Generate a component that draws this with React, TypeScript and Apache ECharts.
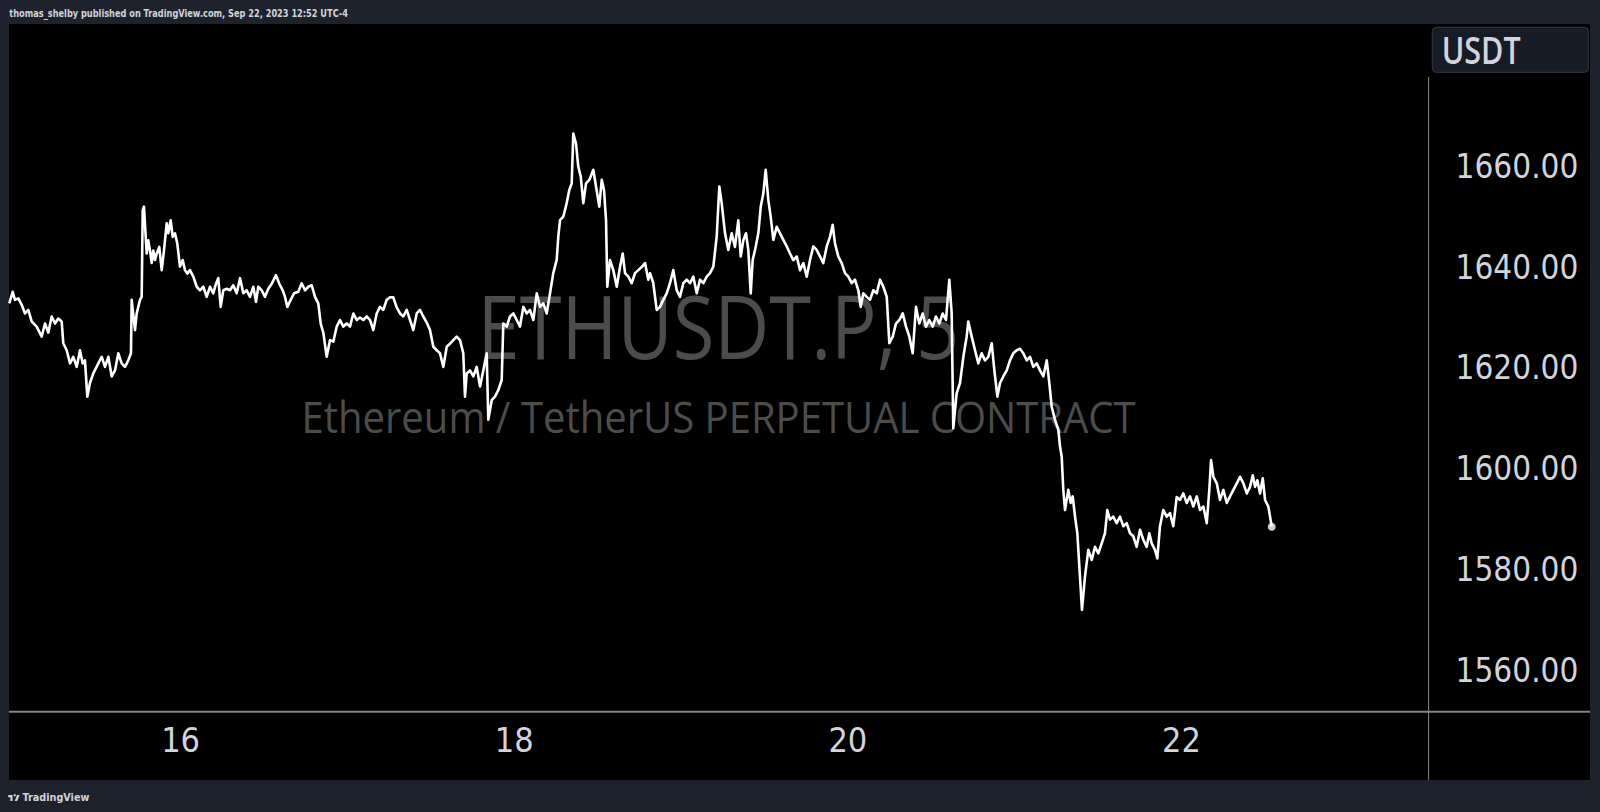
import React, { useEffect, useRef } from "react";
import * as echarts from "echarts";

// Hours since Sep 15 00:00 (UTC-4), 5-min close price in USDT
const sep15: [number, number][] = [
  [-0.65,1632.8],[-0.16,1635.1],[0.17,1633.5],[0.65,1633.8],[1.14,1632.5],[1.61,1630.8],[2.09,1631.5],[2.58,1629.2],[3.29,1628.2],[4.01,1626.2],[4.49,1628.8],[4.96,1627.0],[5.45,1630.2],[5.93,1628.8],[6.40,1629.8],[6.89,1629.2],[7.12,1624.9],[7.61,1623.5],[8.09,1620.9],[8.56,1622.2],[9.05,1620.2],[9.52,1623.5],[9.91,1620.9],[10.24,1621.5],[10.58,1614.3],[10.96,1617.0],[11.44,1618.9],[12.16,1620.9],[12.65,1622.2],[13.12,1620.2],[13.60,1622.2],[14.09,1618.3],[14.56,1619.5],[15.04,1622.9],[15.52,1620.9],[16.00,1620.2],[16.47,1621.5],[16.86,1622.9],[16.96,1633.5],[17.44,1627.5],[17.68,1630.8],[17.91,1632.1],[18.16,1633.5],[18.40,1634.1],[18.55,1651.3],[18.73,1652.0],[18.92,1647.4],[19.12,1642.7],[19.35,1645.3],[19.60,1643.3],[19.84,1640.8],[20.07,1643.3],[20.32,1641.4],[20.56,1642.7],[20.93,1644.0],[21.28,1639.4],[21.61,1643.3],[22.00,1648.7],[22.23,1646.7],[22.57,1649.3],[22.86,1646.0],[23.19,1646.7],[23.52,1644.7],[23.91,1640.1]
];
const sep16: [number, number][] = [
  [24.30,1641.4],[24.63,1639.4],[24.96,1638.7],[25.35,1639.4],[25.83,1638.1],[26.32,1636.1],[26.79,1635.4],[27.27,1636.1],[27.75,1634.1],[28.23,1636.1],[28.70,1634.8],[29.09,1636.7],[29.42,1637.8],[29.77,1632.1],[30.14,1635.4],[30.63,1635.7],[31.11,1635.4],[31.58,1636.4],[32.07,1634.8],[32.55,1637.8],[33.02,1634.8],[33.51,1635.4],[33.98,1634.1],[34.46,1636.1],[34.85,1633.1],[35.18,1636.1],[35.67,1635.4],[36.14,1634.1],[36.62,1635.7],[37.11,1636.7],[37.72,1638.4],[38.20,1636.7],[38.69,1635.4],[39.02,1634.1],[39.35,1632.1],[39.84,1633.5],[40.32,1634.8],[40.93,1635.1],[41.42,1636.8],[41.90,1635.4],[42.37,1636.1],[42.86,1636.4],[43.34,1634.1],[43.81,1632.8],[44.16,1628.8],[44.53,1627.0],[45.02,1622.2],[45.49,1625.5],[45.97,1625.2],[46.46,1628.2],[46.93,1629.5],[47.41,1628.2],[47.90,1628.8]
];
const sep17: [number, number][] = [
  [48.37,1628.2],[48.85,1630.8],[49.34,1629.5],[49.81,1630.0],[50.29,1629.5],[50.78,1630.2],[51.25,1629.5],[51.73,1627.5],[52.21,1630.8],[52.69,1632.1],[53.16,1631.5],[53.65,1633.5],[54.13,1634.0],[54.60,1634.0],[55.09,1632.0],[55.57,1630.8],[56.04,1630.2],[56.53,1631.5],[57.01,1629.5],[57.48,1627.5],[57.97,1630.8],[58.44,1631.5],[58.92,1630.2],[59.41,1629.0],[59.88,1627.5],[60.36,1624.2],[60.85,1623.5],[61.32,1622.9],[61.80,1620.2],[62.29,1624.2],[62.76,1624.8],[63.24,1625.5],[63.72,1626.2],[64.20,1625.5],[64.67,1622.9],[64.92,1614.3],[65.16,1618.9],[65.64,1619.5],[66.11,1618.3],[66.60,1620.2],[67.08,1616.3],[67.55,1619.5],[68.04,1622.9],[68.27,1609.7],[68.76,1613.6],[69.23,1614.3],[69.71,1615.6],[70.20,1617.6],[70.43,1628.8],[70.92,1628.2],[71.39,1630.2],[71.87,1630.8]
];
const sep18: [number, number][] = [
  [72.36,1629.5],[72.83,1628.2],[73.31,1632.1],[73.80,1630.8],[74.27,1631.5],[74.75,1629.5],[75.24,1634.8],[75.71,1632.1],[76.19,1632.8],[76.67,1630.8],[77.15,1634.8],[77.62,1638.8],[78.11,1641.4],[78.34,1646.0],[78.59,1649.3],[79.06,1650.0],[79.55,1652.7],[79.92,1655.3],[80.27,1656.6],[80.50,1666.5],[80.89,1664.5],[81.22,1659.9],[81.57,1658.0],[81.94,1652.7],[82.33,1656.6],[82.80,1657.3],[83.38,1659.3],[83.77,1656.0],[84.24,1652.0],[84.59,1657.3],[84.92,1655.3],[85.21,1649.3],[85.39,1636.1],[85.78,1641.4],[86.26,1639.4],[86.75,1636.1],[87.22,1640.0],[87.61,1642.7],[87.94,1638.8],[88.42,1638.1],[88.90,1636.8],[89.38,1638.8],[89.85,1639.4],[90.34,1640.0],[90.82,1640.8],[91.29,1637.5],[91.54,1638.8],[92.01,1636.8],[92.50,1631.5],[92.97,1632.1],[93.45,1633.5],[93.94,1634.8],[94.41,1636.8],[94.89,1639.4],[95.38,1635.4],[95.85,1634.1]
];
const sep19: [number, number][] = [
  [96.33,1636.8],[96.82,1637.5],[97.29,1636.8],[97.77,1638.1],[98.26,1634.8],[98.73,1637.5],[99.21,1636.8],[99.70,1638.1],[100.17,1638.8],[100.65,1640.1],[101.13,1646.0],[101.51,1656.0],[101.85,1652.7],[102.33,1646.7],[102.80,1643.4],[103.29,1646.7],[103.76,1644.0],[104.24,1649.3],[104.59,1642.1],[104.96,1645.3],[105.35,1646.7],[105.68,1643.4],[106.03,1634.8],[106.31,1641.4],[106.65,1643.4],[107.12,1646.7],[107.47,1652.0],[107.84,1654.6],[108.18,1659.3],[108.56,1653.3],[108.90,1650.0],[109.28,1645.4],[109.77,1648.0],[110.24,1646.7],[110.72,1645.4],[111.21,1644.1],[111.68,1642.7],[112.16,1641.4],[112.65,1642.1],[113.12,1639.4],[113.60,1640.8],[114.08,1638.1],[114.56,1641.4],[115.03,1644.1],[115.52,1643.4],[116.00,1642.1],[116.47,1640.8],[116.96,1644.1],[117.43,1646.0],[117.82,1648.4],[118.15,1644.7],[118.63,1642.1],[119.12,1640.8],[119.59,1638.8]
];
const sep20: [number, number][] = [
  [120.07,1638.1],[120.56,1636.8],[121.03,1637.5],[121.51,1635.4],[121.85,1632.1],[122.23,1634.8],[122.72,1634.1],[123.19,1633.5],[123.67,1635.4],[124.16,1634.8],[124.63,1637.5],[125.11,1636.1],[125.60,1634.1],[125.97,1624.9],[126.46,1626.2],[126.93,1628.8],[127.41,1629.5],[127.90,1630.8],[128.37,1628.2],[128.85,1626.2],[129.33,1622.9],[129.81,1632.1],[130.28,1628.8],[130.77,1630.8],[131.24,1628.2],[131.72,1629.5],[132.21,1628.2],[132.68,1630.2],[133.16,1628.8],[133.65,1630.8],[134.12,1629.5],[134.60,1637.5],[134.94,1630.8],[135.17,1608.0],[135.66,1615.0],[136.14,1617.0],[136.62,1622.2],[137.10,1626.2],[137.33,1629.2],[137.82,1626.2],[138.30,1623.5],[138.77,1620.9],[139.26,1622.9],[139.73,1621.5],[140.21,1622.2],[140.70,1624.9],[141.03,1620.2],[141.51,1614.3],[141.90,1617.0],[142.37,1618.3],[142.86,1619.5],[143.33,1621.5],[143.81,1622.9]
];
const sep21: [number, number][] = [
  [144.30,1623.5],[144.77,1623.8],[145.25,1622.9],[145.74,1621.5],[146.21,1622.2],[146.69,1620.2],[147.18,1620.9],[147.65,1619.5],[148.13,1618.3],[148.62,1621.5],[148.99,1617.0],[149.33,1612.3],[149.81,1609.7],[150.29,1607.7],[150.53,1604.4],[150.77,1602.4],[151.00,1595.8],[151.25,1591.8],[151.72,1595.8],[152.07,1593.2],[152.35,1594.5],[152.69,1590.5],[153.02,1587.2],[153.40,1578.6],[153.69,1572.0],[154.12,1578.6],[154.60,1583.9],[155.09,1581.9],[155.56,1584.5],[156.04,1583.2],[156.53,1585.2],[157.00,1587.2],[157.33,1591.8],[157.72,1589.9],[158.19,1590.5],[158.68,1589.2],[159.16,1590.5],[159.63,1588.6],[160.12,1589.2],[160.60,1587.2],[161.07,1586.6],[161.56,1584.5],[162.04,1587.9],[162.51,1585.9],[163.00,1584.5],[163.37,1587.2],[163.72,1585.2],[164.19,1583.9],[164.53,1582.2],[164.91,1588.6],[165.39,1591.8],[165.88,1590.5],[166.35,1591.2],[166.83,1588.6],[167.32,1594.4],[167.79,1593.8]
];
const sep22: [number, number][] = [
  [168.27,1595.1],[168.76,1593.2],[169.23,1594.5],[169.71,1592.5],[170.20,1594.5],[170.67,1591.8],[171.15,1592.5],[171.64,1589.2],[172.01,1595.8],[172.26,1601.7],[172.59,1598.4],[173.08,1597.1],[173.55,1593.8],[174.03,1595.8],[174.52,1593.2],[174.99,1594.5],[175.47,1595.8],[175.96,1597.1],[176.43,1598.4],[176.91,1597.1],[177.40,1595.1],[177.87,1596.4],[178.26,1598.7],[178.59,1596.4],[178.92,1597.7],[179.31,1595.1],[179.70,1598.1],[180.03,1593.8],[180.50,1592.5],[180.99,1588.5]
];

const xTickHours = [24, 72, 120, 168]; // Sep 16, 18, 20, 22
const yTickValues = [1560, 1580, 1600, 1620, 1640, 1660];
const startDay = 15;

const headerText = "thomas_shelby published on TradingView.com, Sep 22, 2023 12:52 UTC-4";
const symbolText = "ETHUSDT.P, 5";
const descText = "Ethereum / TetherUS PERPETUAL CONTRACT";
const currencyText = "USDT";
const brandText = "TradingView";

const TV_LOGO =
  "M14 6H2v6h6v9h6V6Z M27 21h-7l6.65-15h7L27 21Z M20 10a3 3 0 1 0 0-6a3 3 0 1 0 0 6Z";

function measure(text: string, font: string): number {
  const c = document.createElement("canvas").getContext("2d");
  if (!c) return text.length * 8;
  c.font = font;
  return c.measureText(text).width;
}

export default function App() {
  const ref = useRef<HTMLDivElement>(null);

  useEffect(() => {
    if (!ref.current) return;
    echarts.graphic.registerShape("tvlogo", echarts.graphic.extendPath(TV_LOGO, {}));
    const chart = echarts.init(ref.current, null, { renderer: "svg" });

    const data = [...sep15, ...sep16, ...sep17, ...sep18, ...sep19, ...sep20, ...sep21, ...sep22];
    const last = data[data.length - 1];

    const headerFont = "bold 10px 'DejaVu Sans'";
    const headerScale = 339 / measure(headerText, headerFont);
    const symFont = "normal 88px 'Open Sans'";
    const symScale = 482 / measure(symbolText, symFont);
    const descFont = "normal 44px 'Open Sans'";
    const descScale = 834 / measure(descText, descFont);
    const curFont = "600 37px 'Open Sans'";
    const curScale = 79 / measure(currencyText, curFont);
    const brandFont = "bold 11px 'DejaVu Sans'";
    const brandScale = 67 / measure(brandText, brandFont);

    const labelColor = "#d1d4dc";

    chart.setOption({
      animation: false,
      backgroundColor: "#1e222d",
      grid: { left: 9, right: 171.4, top: 24, bottom: 100.3 },
      xAxis: {
        type: "value",
        min: -0.69,
        max: 203.56,
        axisLine: { show: false },
        axisTick: { show: false },
        splitLine: { show: false },
        axisLabel: {
          customValues: xTickHours,
          formatter: (v: number) => String(startDay + Math.round(v / 24)),
          color: labelColor,
          fontSize: 34,
          fontFamily: "'DejaVu Sans Condensed', 'DejaVu Sans'",
          margin: 11,
        },
      },
      yAxis: {
        type: "value",
        position: "right",
        min: 1551.79,
        max: 1688.23,
        axisLine: { show: false },
        axisTick: { show: false },
        splitLine: { show: false },
        axisLabel: {
          customValues: yTickValues,
          formatter: (v: number) => v.toFixed(2),
          color: labelColor,
          fontSize: 33,
          fontFamily: "'DejaVu Sans Condensed', 'DejaVu Sans'",
          margin: 27,
        },
      },
      graphic: [
        { type: "rect", z: -100, silent: true, shape: { x: 9, y: 24, width: 1581, height: 756 }, style: { fill: "#000000" } },
        {
          type: "text", z: -50, silent: true, x: 718.5, y: 325,
          scaleX: symScale,
          style: { text: symbolText, font: symFont, fill: "#4c4c4c", align: "center", verticalAlign: "middle" },
        },
        {
          type: "text", z: -50, silent: true, x: 718.5, y: 415.5,
          scaleX: descScale,
          style: { text: descText, font: descFont, fill: "#4c4c4c", align: "center", verticalAlign: "middle" },
        },
        { type: "line", z: 5, silent: true, shape: { x1: 9, y1: 711.7, x2: 1590, y2: 711.7 }, style: { stroke: "#858585", lineWidth: 2 } },
        { type: "line", z: 5, silent: true, shape: { x1: 1428.6, y1: 77, x2: 1428.6, y2: 780 }, style: { stroke: "#8a8a8a", lineWidth: 1 } },
        {
          type: "rect", z: 6, silent: true,
          shape: { x: 1432.3, y: 27.3, width: 156, height: 45, r: 4 },
          style: { fill: "#171b26", stroke: "#363a45", lineWidth: 1 },
        },
        {
          type: "text", z: 7, silent: true, x: 1441.7, y: 49.5,
          scaleX: curScale,
          style: { text: currencyText, font: curFont, fill: labelColor, align: "left", verticalAlign: "middle" },
        },
        {
          type: "text", z: 7, silent: true, x: 9.3, y: 13.8,
          scaleX: headerScale,
          style: { text: headerText, font: headerFont, fill: labelColor, align: "left", verticalAlign: "middle" },
        },
        {
          type: "tvlogo", z: 7, silent: true, x: 7.5, y: 792.5, scaleX: 0.36, scaleY: 0.4,
          style: { fill: labelColor },
        },
        {
          type: "text", z: 7, silent: true, x: 22.5, y: 797,
          scaleX: brandScale,
          style: { text: brandText, font: brandFont, fill: labelColor, align: "left", verticalAlign: "middle" },
        },
      ],
      series: [
        {
          type: "line",
          data,
          showSymbol: false,
          symbol: "none",
          clip: true,
          z: 2,
          lineStyle: { color: "#ffffff", width: 2.6, join: "round" },
        },
        {
          type: "scatter",
          data: [last],
          symbol: "circle",
          symbolSize: 8,
          z: 3,
          itemStyle: { color: "#ffffff" },
        },
      ],
    });

    return () => chart.dispose();
  }, []);

  return (
    <div
      ref={ref}
      style={{ position: "fixed", left: 0, top: 0, width: 1600, height: 812 }}
    />
  );
}
